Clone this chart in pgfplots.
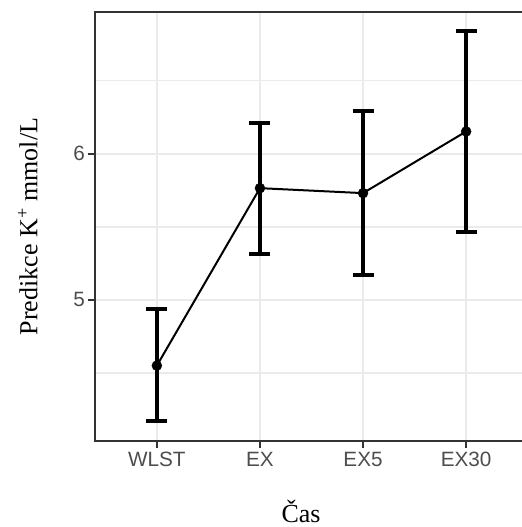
\documentclass[border=0pt]{standalone}
\usepackage{pgfplots}
\pgfplotsset{compat=1.18}
\usepackage{fontspec}
\setmainfont{Liberation Serif}
\newfontfamily\sansf{Liberation Sans}
\definecolor{gridc}{HTML}{EBEBEB}
\definecolor{tickc}{HTML}{4D4D4D}
\definecolor{borderc}{HTML}{333333}
\pgfplotstableread{
x y ep em
0 4.550 0.386 0.379
1 5.765 0.449 0.452
2 5.731 0.564 0.562
3 6.153 0.685 0.689
}\data
\begin{document}
\begin{tikzpicture}
\begin{axis}[
  at={(0,0)}, anchor=south west,
  scale only axis, width=433bp, height=429bp,
  xmin=-0.6, xmax=3.6, ymin=4.034, ymax=6.971,
  xtick={0,1,2,3}, xticklabels={WLST,EX,EX5,EX30},
  ytick={5,6}, minor ytick={4.5,5.5,6.5},
  xtick pos=bottom, ytick pos=left,
  tick align=outside, major tick length=6.5bp, minor tick length=0pt,
  tick style={color=borderc, line width=2bp},
  xmajorgrids, ymajorgrids, yminorgrids,
  major grid style={color=gridc, line width=2.5bp},
  minor grid style={color=gridc, line width=1.3bp},
  axis line style={color=borderc, line width=2bp},
  /pgf/number format/assume math mode=true,
  ticklabel style={font=\sansf\fontsize{20.7bp}{24bp}\selectfont, text=tickc},
  xticklabel style={yshift=-1bp},
  label style={font=\fontsize{26bp}{30bp}\selectfont},
  ylabel={Predikce K\textsuperscript{+} mmol/L},
  xlabel={Čas},
  ylabel style={at={(axis description cs:-0.155,0.5)}, anchor=center},
  xlabel style={at={(axis description cs:0.476,-0.189)}, anchor=base},
]
\addplot[black, line width=2bp, mark=none] table[x=x, y=y] {\data};
\addplot[black, line width=4bp, only marks, mark=none,
  error bars/.cd, y dir=both, y explicit,
  error bar style={line width=4bp, black},
  error mark options={rotate=90, line width=4bp, mark size=10.5bp, black}]
  table[x=x, y=y, y error plus=ep, y error minus=em] {\data};
\addplot[black, only marks, mark=*, mark size=5bp] table[x=x, y=y] {\data};
\end{axis}
\pgfresetboundingbox
\useasboundingbox (-95bp,-86bp) rectangle (427bp,441bp);
\end{tikzpicture}
\end{document}
